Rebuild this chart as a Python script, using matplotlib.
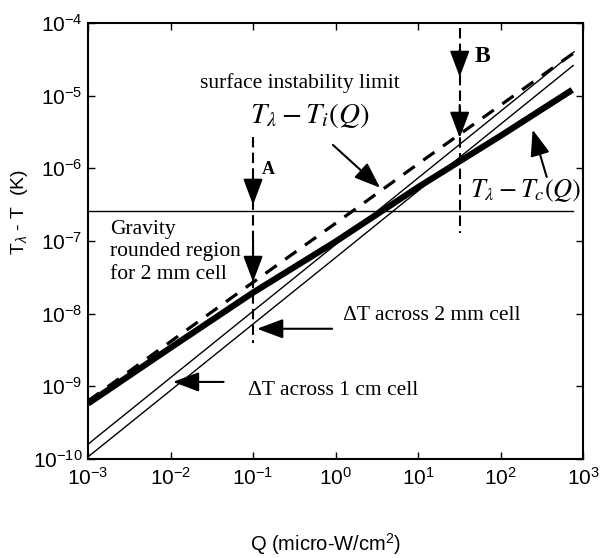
import matplotlib
matplotlib.use("Agg")
import matplotlib.pyplot as plt

plt.rcParams["font.family"] = ["Liberation Sans", "DejaVu Sans"]
plt.rcParams["mathtext.fontset"] = "custom"
plt.rcParams["mathtext.rm"] = "Liberation Sans"
plt.rcParams["mathtext.it"] = "Liberation Sans:italic"
plt.rcParams["mathtext.bf"] = "Liberation Sans:bold"

# Tlambda - Tc(Q), thick solid
q_tc = [1e-3, 1e-2, 1e-1, 1, 10, 100, 740]
t_tc = [5.8e-10, 3.4e-9, 1.95e-8, 9.8e-8, 5.5e-7, 2.8e-6, 1.2e-5]

# Tlambda - Ti(Q), surface instability limit, thick dashed
q_ti = [1e-3, 1e-1, 1, 10, 100, 780]
t_ti = [6.3e-10, 2.7e-8, 1.75e-7, 1.15e-6, 7.4e-6, 3.9e-5]

# delta T across the cells, thin solid
q_1cm = [1e-3, 1, 780]
t_1cm = [1.6e-10, 8.9e-8, 4.0e-5]
q_2mm = [1e-3, 1, 760]
t_2mm = [1.07e-10, 5.9e-8, 2.6e-5]

# gravity rounded limit for 2 mm cell
q_grav = [1e-3, 760]
t_grav = [2.6e-7, 2.6e-7]

# points A and B
q_a, t_a = [0.1, 0.1], [2.7e-6, 4.0e-9]
q_b, t_b = [32, 32], [8.5e-5, 1.3e-7]

fig = plt.figure(figsize=(6.13, 5.58), dpi=100)
ax = fig.add_axes([0.1436, 0.1774, 0.8075, 0.7814])
ax.set_xscale("log")
ax.set_yscale("log")

ax.plot(q_tc, t_tc, color="k", lw=4.5, solid_capstyle="butt")
ax.plot(q_ti, t_ti, color="k", lw=2.3, linestyle=(0, (4.3, 3.3)))
ax.plot(q_1cm, t_1cm, color="k", lw=1.0)
ax.plot(q_2mm, t_2mm, color="k", lw=1.0)
ax.plot(q_grav, t_grav, color="k", lw=1.0)
ax.plot(q_a, t_a, color="k", lw=1.5, linestyle=(0, (5, 2.5)))
ax.plot(q_b, t_b, color="k", lw=1.5, linestyle=(0, (5, 2.5)))

head = dict(arrowstyle="-|>,head_length=1.6,head_width=0.6", color="k",
            lw=1.5, shrinkA=0, shrinkB=0, mutation_scale=10)

# arrows down on A and B
ax.annotate("", xy=(0.1, 3.14e-7), xytext=(0.1, 8.1e-7), arrowprops=head)
ax.annotate("", xy=(0.1, 2.73e-8), xytext=(0.1, 1.03e-7), arrowprops=head)
ax.annotate("", xy=(32, 1.81e-5), xytext=(32, 4.26e-5), arrowprops=head)
ax.annotate("", xy=(32, 2.62e-6), xytext=(32, 7.45e-6), arrowprops=head)

# label arrows
ax.annotate("", xy=(3.47, 5.4e-7), xytext=(0.93, 2.1e-6), arrowprops=head)
ax.annotate("", xy=(245, 3.4e-6), xytext=(363, 7.6e-7), arrowprops=head)
ax.annotate("", xy=(0.112, 6.2e-9), xytext=(0.91, 6.2e-9), arrowprops=head)
ax.annotate("", xy=(0.0107, 1.15e-9), xytext=(0.044, 1.15e-9), arrowprops=head)

serif = ["Liberation Serif", "DejaVu Serif"]
ax.text(0.023, 1.5e-5, "surface instability limit", family=serif,
        fontsize=15.5, ha="left", va="center")
ax.text(0.091, 5.4e-6, r"$T_\lambda - T_i(Q)$", math_fontfamily="stix",
        fontsize=21, ha="left", va="center")
ax.text(43, 5.0e-7, r"$T_\lambda - T_c(Q)$", math_fontfamily="stix",
        fontsize=19, ha="left", va="center")
ax.text(0.152, 9.5e-7, "A", family=serif, fontweight="bold",
        fontsize=13, ha="center", va="center")
ax.text(60, 3.5e-5, "B", family=serif, fontweight="bold",
        fontsize=17, ha="center", va="center")
ax.text(1.85e-3, 1.95e-7, "Gravity\nrounded region\nfor 2 mm cell",
        family=serif, fontsize=15.5, ha="left", va="top", linespacing=1.25)
ax.text(1.23, 9.5e-9, "\u0394T across 2 mm cell", family=serif,
        fontsize=15.5, ha="left", va="center")
ax.text(0.087, 8.9e-10, "\u0394T across 1 cm cell", family=serif,
        fontsize=15.5, ha="left", va="center")

ax.set_xlim(1e-3, 1e3)
ax.set_ylim(1e-10, 1e-4)
ax.set_xticks([1e-3, 1e-2, 1e-1, 1, 10, 100, 1000])
ax.set_yticks([1e-10, 1e-9, 1e-8, 1e-7, 1e-6, 1e-5, 1e-4])
ax.minorticks_off()
ax.tick_params(direction="in", length=5, width=1, top=True, right=True,
               labelsize=15, pad=4)
ax.tick_params(axis="x", pad=6)
for s in ax.spines.values():
    s.set_linewidth(1.5)

ax.set_xlabel("Q (micro-W/cm$^2$)", fontsize=14.5, va="center")
ax.set_ylabel("T$_\\lambda$ - T  (K)", fontsize=14)
ax.xaxis.set_label_coords(0.479, -0.195)
ax.yaxis.set_label_coords(-0.117, 0.567)

fig.savefig("out.png", dpi=100)
